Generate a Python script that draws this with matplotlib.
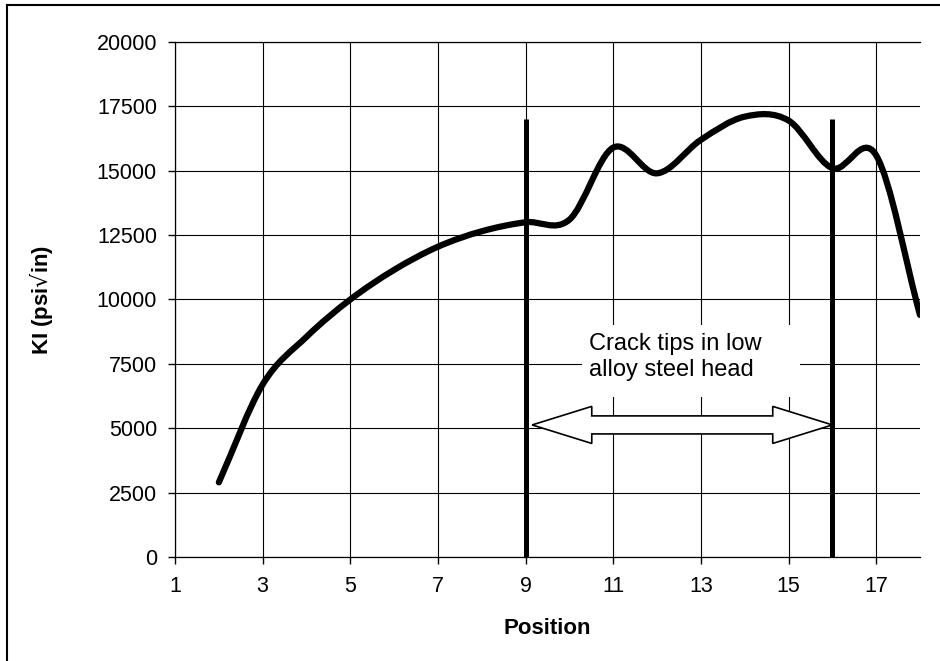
import matplotlib
matplotlib.use('Agg')
import matplotlib.pyplot as plt
import matplotlib.patches as mpatches
from matplotlib.path import Path
import numpy as np

plt.rcParams['font.family'] = ['Liberation Sans', 'DejaVu Sans']

# data (Excel-style smoothed line through these points)
position = [2, 3, 4, 5, 6, 7, 8, 9, 10, 11, 12, 13, 14, 15, 16, 17, 18]
ki = [2900, 6700, 8550, 10000, 11150, 12050, 12650, 13000, 13100,
      15900, 14900, 16200, 17100, 16950, 15100, 15600, 9400]

crack_tips = [9, 16]
crack_top = 17000
arrow_y = 5130

x_ticks = [1, 3, 5, 7, 9, 11, 13, 15, 17]
y_ticks = [0, 2500, 5000, 7500, 10000, 12500, 15000, 17500, 20000]


def smooth_path(xs, ys):
    # bezier segments, control points like Excel's smoothed line
    xs = np.asarray(xs, float)
    ys = np.asarray(ys, float)
    n = len(xs)
    tx = np.zeros(n)
    ty = np.zeros(n)
    tx[1:-1] = (xs[2:] - xs[:-2]) / 2
    ty[1:-1] = (ys[2:] - ys[:-2]) / 2
    tx[0], ty[0] = xs[1] - xs[0], ys[1] - ys[0]
    tx[-1], ty[-1] = xs[-1] - xs[-2], ys[-1] - ys[-2]
    verts = [(xs[0], ys[0])]
    codes = [Path.MOVETO]
    for i in range(n - 1):
        verts.append((xs[i] + tx[i] / 3, ys[i] + ty[i] / 3))
        verts.append((xs[i + 1] - tx[i + 1] / 3, ys[i + 1] - ty[i + 1] / 3))
        verts.append((xs[i + 1], ys[i + 1]))
        codes += [Path.CURVE4] * 3
    return Path(verts, codes)


fig = plt.figure(figsize=(9.4, 6.61), dpi=100)
ax = fig.add_axes([0.1862, 0.1573, 0.7925, 0.7792])

ax.set_xlim(1, 18)
ax.set_ylim(0, 20000)
ax.set_xticks(x_ticks)
ax.set_yticks(y_ticks)
ax.tick_params(direction='out', length=5, width=1, labelsize=15.5, colors='black')
ax.tick_params(axis='y', pad=8)
ax.tick_params(axis='x', pad=9)
ax.grid(True, color='black', linewidth=0.8)
ax.set_axisbelow(True)
ax.spines['right'].set_visible(False)
for s in ['left', 'bottom', 'top']:
    ax.spines[s].set_linewidth(0.9)

# the KI curve
curve = mpatches.PathPatch(smooth_path(position, ki), fill=False, edgecolor='black',
                           linewidth=4.5, capstyle='round', joinstyle='round', zorder=4)
ax.add_patch(curve)

# crack tip markers
ax.vlines(crack_tips, 0, crack_top, colors='black', linewidth=3.6, zorder=5)

# text box with white background
ax.add_patch(mpatches.Rectangle((10.29, 6214), 4.97, 2800, facecolor='white',
                                edgecolor='none', zorder=3))
ax.text(10.45, 7767, 'Crack tips in low\nalloy steel head', fontsize=17,
        ha='left', va='center', linespacing=1.25, zorder=6)

# double headed block arrow between crack tips
x0, x1 = crack_tips[0] + 0.15, crack_tips[1]
head = 1.36
sh, hh = 350, 720
arrow_pts = [(x0, arrow_y), (x0 + head, arrow_y + hh), (x0 + head, arrow_y + sh),
             (x1 - head, arrow_y + sh), (x1 - head, arrow_y + hh), (x1, arrow_y),
             (x1 - head, arrow_y - hh), (x1 - head, arrow_y - sh),
             (x0 + head, arrow_y - sh), (x0 + head, arrow_y - hh)]
ax.add_patch(mpatches.Polygon(arrow_pts, closed=True, facecolor='white',
                              edgecolor='black', linewidth=1.2, zorder=6))

ax.set_xlabel('Position', fontsize=16, fontweight='bold')
ax.set_ylabel('KI (psi$\u221a$in)', fontsize=16, fontweight='bold')
ax.xaxis.set_label_coords(0.5, -0.118)
ax.yaxis.set_label_coords(-0.161, 0.5)

# outer frame (left and top only visible in the scan)
fig.add_artist(plt.Line2D([7 / 940, 7 / 940], [0, 1 - 5 / 661], color='black', linewidth=1.5))
fig.add_artist(plt.Line2D([7 / 940, 1], [1 - 5 / 661, 1 - 5 / 661], color='black', linewidth=1.5))

plt.savefig('out.png', dpi=100)
